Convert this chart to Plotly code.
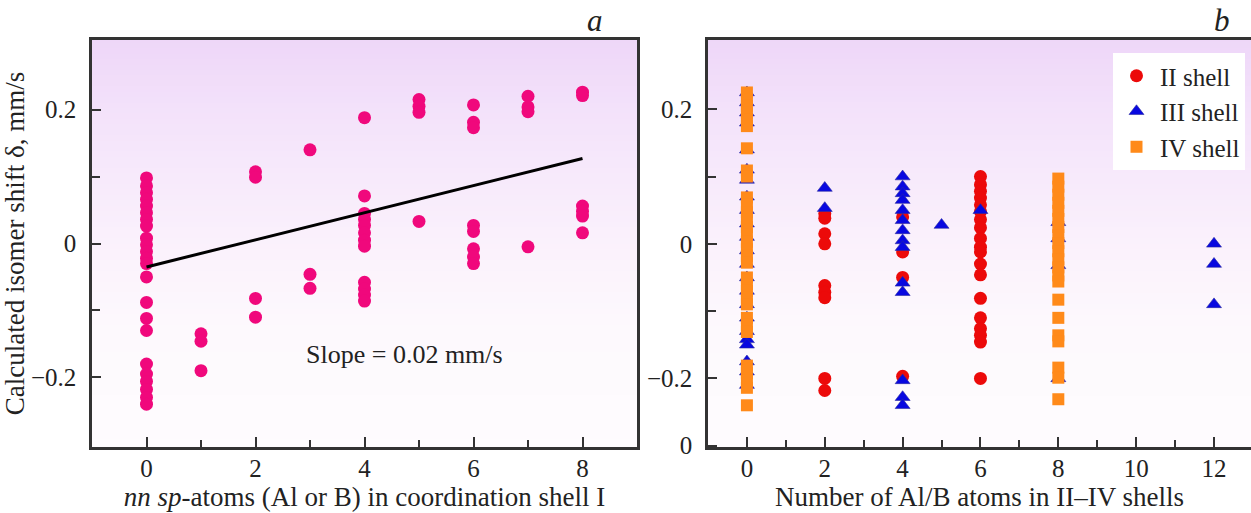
import numpy as np
import plotly.graph_objects as go

# ---------------- data: panel a ----------------
a_counts = [0, 1, 2, 3, 4, 5, 6, 7, 8]
a_shifts = [
    [0.098, 0.086, 0.076, 0.066, 0.056, 0.046, 0.036, 0.026, 0.008, -0.002, -0.012,
     -0.022, -0.03, -0.05, -0.088, -0.112, -0.13, -0.18, -0.195, -0.206, -0.218, -0.23, -0.24],
    [-0.135, -0.146, -0.19],
    [0.107, 0.099, -0.082, -0.110],
    [0.14, -0.046, -0.067],
    [0.188, 0.071, 0.045, 0.036, 0.027, 0.016, 0.005, -0.004, -0.058, -0.068, -0.077, -0.086],
    [0.215, 0.205, 0.196, 0.033],
    [0.207, 0.181, 0.173, 0.027, 0.018, -0.008, -0.02, -0.03],
    [0.22, 0.204, 0.197, -0.005],
    [0.226, 0.221, 0.056, 0.048, 0.041, 0.016],
]
fit_x = [0, 8]
fit_y = [-0.035, 0.127]
slope_text = "Slope = 0.02 mm/s"

# ---------------- data: panel b ----------------
ii_counts = [2, 4, 6]
ii_shifts = [
    [0.045, 0.038, 0.015, 0.0, -0.062, -0.072, -0.08, -0.2, -0.218],
    [0.04, -0.012, -0.05, -0.197],
    [0.1, 0.088, 0.078, 0.068, 0.058, 0.048, 0.036, 0.024, 0.008, -0.005, -0.012, -0.03,
     -0.046, -0.081, -0.11, -0.126, -0.136, -0.146, -0.2],
]
iii_counts = [0, 2, 4, 5, 6, 8, 12]
iii_shifts = [
    [0.225, 0.21, 0.195, 0.18, 0.14, 0.11, 0.095, 0.07, 0.05, 0.03, 0.01, -0.01, -0.03,
     -0.05, -0.07, -0.09, -0.11, -0.13, -0.142, -0.15, -0.175, -0.19, -0.21],
    [0.083, 0.053],
    [0.1, 0.085, 0.075, 0.065, 0.05, 0.035, 0.02, 0.005, -0.005, -0.058, -0.072, -0.203,
     -0.228, -0.24],
    [0.028],
    [0.05],
    [0.032, 0.008, -0.032, -0.2],
    [0.0, -0.03, -0.09],
]
iv_counts = [0, 8]
iv_shifts = [
    [0.225, 0.215, 0.205, 0.195, 0.185, 0.175, 0.142, 0.109, 0.1,
     0.069, 0.058, 0.047, 0.036, 0.025, 0.014, 0.003, -0.008, -0.018, -0.028,
     -0.05, -0.06, -0.07, -0.08, -0.09, -0.11, -0.12, -0.131,
     -0.181, -0.192, -0.203, -0.214, -0.24],
    [0.097, 0.085, 0.073, 0.061, 0.049, 0.037, 0.025, 0.013, 0.001, -0.011, -0.023,
     -0.035, -0.047, -0.056, -0.083, -0.11, -0.136, -0.145, -0.184, -0.199, -0.231],
]

a_xticks = [0, 2, 4, 6, 8]
b_xticks = [0, 2, 4, 6, 8, 10, 12]
a_yticks = [-0.2, 0, 0.2]
a_yticktext = ["\u22120.2", "0", "0.2"]
b_yticks = [-0.3, -0.2, 0, 0.2]
b_yticktext = ["0", "\u22120.2", "0", "0.2"]


def flat(counts, shifts):
    xs, ys = [], []
    for c, vals in zip(counts, shifts):
        xs += [c] * len(vals)
        ys += vals
    return xs, ys


FONT = "Liberation Serif"
AX = "#333333"
TXT = "#222222"
TICK_SIZE = 25
TITLE_SIZE = 27

fig = go.Figure()

# background gradient (lavender at top fading to white)
gy = np.linspace(-0.32, 0.32, 80)
gz = [[v, v] for v in gy]
grad_scale = [
    [0.0, "rgb(254,252,254)"],
    [0.3, "rgb(253,249,253)"],
    [0.48, "rgb(251,242,252)"],
    [0.65, "rgb(247,234,251)"],
    [0.82, "rgb(243,225,250)"],
    [1.0, "rgb(237,213,248)"],
]
for xa, ya in (("x", "y"), ("x2", "y2")):
    fig.add_trace(go.Heatmap(x=[-5, 20], y=gy, z=gz, colorscale=grad_scale,
                             showscale=False, hoverinfo="skip", xaxis=xa, yaxis=ya,
                             zmin=-0.32, zmax=0.32))

ax_, ay_ = flat(a_counts, a_shifts)
fig.add_trace(go.Scatter(x=ax_, y=ay_, mode="markers", showlegend=False,
                         marker=dict(color="#f0087c", size=13), xaxis="x", yaxis="y"))
fig.add_trace(go.Scatter(x=fit_x, y=fit_y, mode="lines", showlegend=False,
                         line=dict(color="black", width=3), xaxis="x", yaxis="y"))

bx, by = flat(ii_counts, ii_shifts)
fig.add_trace(go.Scatter(x=bx, y=by, mode="markers", name="II shell",
                         marker=dict(color="#ec0a0a", size=13, symbol="circle"),
                         xaxis="x2", yaxis="y2"))
bx, by = flat(iii_counts, iii_shifts)
fig.add_trace(go.Scatter(x=bx, y=by, mode="markers", name="III shell",
                         marker=dict(color="#0808e0", size=13, symbol="triangle-up",
                                     line=dict(color="#2a2aa0", width=0.6)),
                         xaxis="x2", yaxis="y2"))
bx, by = flat(iv_counts, iv_shifts)
fig.add_trace(go.Scatter(x=bx, y=by, mode="markers", name="IV shell",
                         marker=dict(color="#ff8a1a", size=12, symbol="square"),
                         xaxis="x2", yaxis="y2"))

common_x = dict(showline=True, linecolor=AX, linewidth=2.5, ticks="inside", ticklen=10,
                tickwidth=1.5, tickcolor=AX, showgrid=False, zeroline=False,
                tickfont=dict(family=FONT, size=TICK_SIZE, color=TXT), mirror=True,
                ticklabelstandoff=-3)
common_y = dict(showline=True, linecolor=AX, linewidth=2.5, ticks="inside", ticklen=9,
                tickwidth=1.5, tickcolor=AX, showgrid=False, zeroline=False,
                tickfont=dict(family=FONT, size=TICK_SIZE, color=TXT),
                ticklabelstandoff=8)

fig.update_layout(
    width=1251, height=513,
    margin=dict(l=0, r=0, t=40, b=66, autoexpand=False),
    paper_bgcolor="white", plot_bgcolor="white",
    font=dict(family=FONT, size=TICK_SIZE, color=TXT),
    xaxis=dict(domain=[92 / 1251, 637 / 1251], range=[-1, 9], tickvals=a_xticks,
               minor=dict(tickvals=[1, 3, 5, 7], ticks="inside", ticklen=7, tickcolor=AX,
                          tickwidth=1.5),
               title=dict(text="<i>nn sp</i>-atoms (Al or B) in coordination shell I",
                          font=dict(family=FONT, size=TITLE_SIZE, color=TXT), standoff=4),
               automargin=False, **common_x),
    yaxis=dict(domain=[0, 1], range=[-0.304, 0.304], tickvals=a_yticks,
               ticktext=a_yticktext, mirror=True,
               minor=dict(tickvals=[-0.1, 0.1], ticks="inside", ticklen=8, tickcolor=AX,
                          tickwidth=1.5),
               title=dict(text="Calculated isomer shift \u03b4, mm/s",
                          font=dict(family=FONT, size=TITLE_SIZE, color=TXT), standoff=10),
               automargin=False, **common_y),
    xaxis2=dict(domain=[708 / 1251, 1.0], range=[-1, 12.95], tickvals=b_xticks,
                minor=dict(tickvals=[1, 3, 5, 7, 9, 11], ticks="inside", ticklen=7,
                           tickcolor=AX, tickwidth=1.5),
                title=dict(text="Number of Al/B atoms in II\u2013IV shells",
                           font=dict(family=FONT, size=TITLE_SIZE, color=TXT), standoff=4),
                anchor="y2", automargin=False, **common_x),
    yaxis2=dict(domain=[0, 1], range=[-0.302, 0.303], tickvals=b_yticks,
                ticktext=b_yticktext, mirror=False, anchor="x2", automargin=False,
                minor=dict(tickvals=[-0.1, 0.1], ticks="inside", ticklen=8, tickcolor=AX,
                           tickwidth=1.5),
                **common_y),
    legend=dict(x=1245 / 1251, xanchor="right", y=0.968, yanchor="top",
                bgcolor="white", borderwidth=0,
                font=dict(family=FONT, size=25, color=TXT),
                tracegroupgap=0, itemwidth=37),
    annotations=[
        dict(text=slope_text, x=4.73, y=-0.166, xref="x", yref="y", showarrow=False,
             font=dict(family=FONT, size=26, color=TXT)),
        dict(text="<i>a</i>", x=595 / 1251, y=1.047, xref="paper", yref="paper",
             yanchor="middle", xanchor="center",
             showarrow=False, font=dict(family=FONT, size=31, color=TXT)),
        dict(text="<i>b</i>", x=1222 / 1251, y=1.047, xref="paper", yref="paper",
             yanchor="middle", xanchor="center",
             showarrow=False, font=dict(family=FONT, size=31, color=TXT)),
    ],
)

fig.write_html("out.html", config={"displayModeBar": False},
               post_script="document.body.style.margin='0';document.body.style.overflow='hidden';")
